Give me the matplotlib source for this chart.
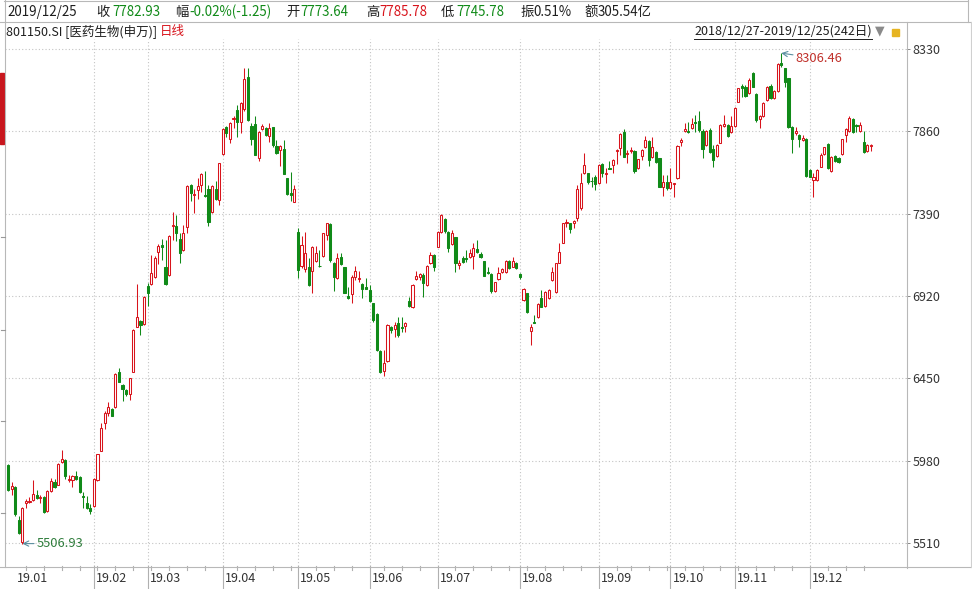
import matplotlib
matplotlib.use('Agg')
import matplotlib.pyplot as plt
import matplotlib.transforms as mtransforms
from matplotlib.lines import Line2D
from matplotlib.patches import Rectangle
import numpy as np
import pandas as pd

plt.rcParams['font.family'] = ['Noto Sans CJK SC', 'DejaVu Sans']

# ---------------- data (801150.SI 医药生物(申万), daily, 2018/12/27-2019/12/25) ----------------
opens = [
    5954, 5817,                                                        # 2018-12
    5830, 5644, 5515, 5738, 5745, 5758, 5785, 5765, 5771, 5693, 5807,  # 2019-01
    5860, 5844, 5974, 5982, 5868, 5870, 5893, 5889, 5781, 5738, 5712,
    5722, 5870, 6037, 6194, 6250, 6273, 6287, 6486, 6411, 6385, 6362,  # 02
    6486, 6746, 6779, 6760,
    6976, 6986, 7031, 7169, 7214, 7088, 7041, 7320, 7320, 7243, 7184,  # 03
    7316, 7554, 7497, 7523, 7552, 7497, 7529, 7399, 7533, 7470,
    7730, 7887, 7818, 7930, 7980, 7911, 7989, 8172, 7891, 7901, 7710,  # 04
    7873, 7881, 7832, 7885, 7775, 7751, 7759, 7592, 7507, 7458,
    7287, 7090, 7076, 7088, 7063, 7122, 7093, 7148, 7268, 7331, 7110,  # 05
    7021, 7145, 7084, 6922, 6931, 7030, 7020, 6987, 6969,
    6954, 6878, 6817, 6608, 6494, 6551, 6745, 6730, 6764, 6741, 6749,  # 06
    6893, 6855, 7015, 7027, 7040, 6983, 7106, 7154,
    7202, 7287, 7360, 7287, 7217, 7255, 7097, 7139, 7139, 7144, 7150,  # 07
    7188, 7160, 7120, 7057, 7045, 6950, 7015, 7059, 7059, 7120, 7087,
    7106,
    7044, 6897, 6935, 6722, 6773, 6798, 6907, 6865, 6907, 7011, 6941,  # 08
    7110, 7224, 7335, 7335, 7335, 7363, 7420, 7620, 7620, 7577, 7597,
    7563, 7673, 7618, 7652, 7668, 7749, 7763, 7858, 7728, 7749, 7749,  # 09
    7649, 7721, 7768, 7805, 7711, 7744, 7706, 7544, 7572,
    7534, 7559, 7591, 7801, 7864, 7862, 7877, 7913, 7919, 7864, 7782,  # 10
    7867, 7757, 7719, 7795, 7890, 7896, 7858,
    7890, 8029, 8119, 8115, 8077, 8194, 8073, 7928, 7947, 8038, 8118,  # 11
    8048, 8092, 8252, 8219, 8162, 7882, 7848, 7839, 7810, 7814,
    7639, 7582, 7582, 7658, 7730, 7787, 7635, 7719, 7705, 7730, 7839,  # 12
    7863, 7928, 7896, 7863, 7801, 7749, 7773.64,
]
highs = [
    5962, 5856,
    5836, 5663, 5713, 5762, 5771, 5870, 5811, 5785, 5777, 5811, 5880,
    5874, 5968, 6041, 5988, 5899, 5899, 5919, 5893, 5801, 5781, 5732,
    5880, 6021, 6198, 6263, 6313, 6283, 6480, 6509, 6415, 6391, 6454,
    6730, 6986, 6785, 6923,
    6992, 7155, 7149, 7218, 7243, 7238, 7267, 7399, 7381, 7277, 7326,
    7552, 7558, 7533, 7592, 7621, 7631, 7552, 7552, 7578, 7682,
    7877, 7891, 7911, 7950, 8009, 8025, 8222, 8222, 7907, 7946, 7861,
    7903, 7883, 7907, 7887, 7808, 7783, 7808, 7596, 7627, 7556,
    7306, 7261, 7287, 7139, 7207, 7207, 7183, 7282, 7339, 7335, 7116,
    7167, 7164, 7087, 6969, 7040, 7093, 7063, 6992, 7021,
    6983, 6882, 6821, 6612, 6612, 6760, 6749, 6773, 6802, 6798, 6773,
    6916, 6987, 7063, 7053, 7049, 7095, 7173, 7158,
    7291, 7388, 7363, 7291, 7297, 7259, 7125, 7148, 7182, 7186, 7221,
    7240, 7173, 7122, 7087, 7049, 7002, 7087, 7078, 7125, 7125, 7144,
    7116,
    7049, 6964, 6939, 6758, 6811, 6878, 6954, 6950, 6958, 7084, 7110,
    7221, 7339, 7358, 7339, 7354, 7554, 7620, 7735, 7624, 7597, 7611,
    7673, 7677, 7649, 7692, 7700, 7757, 7848, 7871, 7753, 7772, 7753,
    7704, 7757, 7833, 7810, 7826, 7749, 7709, 7610, 7610,
    7649, 7567, 7780, 7824, 7905, 7915, 7934, 7953, 7976, 7871, 7866,
    7877, 7782, 7786, 7900, 7953, 7900, 7947,
    8001, 8109, 8130, 8124, 8162, 8200, 8077, 7953, 8029, 8118, 8130,
    8096, 8248, 8306.46, 8223, 8166, 7890, 7882, 7844, 7839, 7820,
    7643, 7620, 7643, 7734, 7772, 7791, 7719, 7724, 7711, 7818, 7877,
    7947, 7934, 7901, 7915, 7863, 7790, 7785.78,
]
lows = [
    5805, 5785,
    5667, 5561, 5506.93, 5712, 5738, 5752, 5760, 5738, 5683, 5689, 5801,
    5825, 5840, 5968, 5876, 5856, 5830, 5870, 5797, 5712, 5702, 5673,
    5718, 5866, 6033, 6159, 6234, 6234, 6283, 6427, 6322, 6352, 6328,
    6484, 6742, 6696, 6755,
    6864, 6982, 7025, 7104, 7123, 6982, 7037, 7238, 7234, 7110, 7178,
    7277, 7464, 7395, 7474, 7513, 7483, 7320, 7395, 7470, 7440,
    7726, 7828, 7793, 7877, 7828, 7852, 7976, 7917, 7783, 7724, 7690,
    7867, 7832, 7798, 7769, 7730, 7665, 7615, 7497, 7464, 7454,
    7021, 7080, 7057, 6978, 6935, 7116, 7087, 7145, 7240, 7116, 6950,
    7017, 7097, 6935, 6901, 6882, 7011, 7002, 6910, 6958,
    6888, 6773, 6608, 6479, 6465, 6545, 6711, 6684, 6688, 6716, 6716,
    6859, 6850, 7011, 7011, 6916, 6977, 7103, 7063,
    7198, 7278, 7278, 7173, 7211, 7059, 7074, 7106, 7116, 7139, 7074,
    7163, 7139, 7034, 7045, 6939, 6945, 7011, 7049, 7053, 7074, 7083,
    7074,
    7015, 6893, 6825, 6640, 6764, 6794, 6855, 6859, 6903, 7007, 6939,
    7106, 7221, 7316, 7281, 7306, 7350, 7410, 7616, 7559, 7540, 7525,
    7559, 7601, 7563, 7643, 7624, 7673, 7725, 7711, 7677, 7738, 7624,
    7645, 7696, 7763, 7662, 7706, 7681, 7540, 7491, 7525,
    7530, 7487, 7588, 7776, 7858, 7852, 7873, 7858, 7858, 7706, 7776,
    7738, 7654, 7711, 7791, 7886, 7826, 7852,
    7886, 8025, 8058, 8058, 8073, 8111, 7915, 7877, 7943, 8035, 8042,
    8042, 8086, 8225, 8115, 7877, 7734, 7839, 7772, 7806, 7597,
    7597, 7487, 7578, 7654, 7724, 7643, 7629, 7686, 7677, 7724, 7801,
    7858, 7852, 7858, 7858, 7738, 7744, 7745.78,
]
closes = [
    5811, 5836,
    5673, 5565, 5710, 5752, 5752, 5791, 5765, 5771, 5687, 5807, 5866,
    5830, 5962, 5992, 5895, 5874, 5895, 5876, 5801, 5771, 5708, 5693,
    5876, 6017, 6165, 6254, 6287, 6238, 6474, 6431, 6387, 6362, 6450,
    6726, 6799, 6754, 6917,
    6938, 7051, 7139, 7208, 7202, 6986, 7263, 7326, 7277, 7163, 7277,
    7548, 7509, 7503, 7548, 7617, 7493, 7340, 7548, 7474, 7678,
    7871, 7852, 7907, 7936, 7911, 8021, 8157, 7922, 7818, 7726, 7857,
    7891, 7838, 7877, 7783, 7735, 7779, 7619, 7503, 7497, 7531,
    7070, 7214, 7165, 6982, 7202, 7167, 7089, 7278, 7335, 7126, 7027,
    7139, 7103, 6939, 6907, 7030, 7063, 7025, 6958, 6962,
    6893, 6783, 6612, 6488, 6536, 6754, 6726, 6754, 6697, 6735, 6768,
    6863, 6983, 7034, 7045, 6996, 7091, 7154, 7087,
    7287, 7382, 7293, 7192, 7278, 7106, 7110, 7116, 7133, 7163, 7196,
    7173, 7144, 7036, 7049, 6950, 6998, 7049, 7074, 7122, 7078, 7120,
    7082,
    7030, 6958, 6830, 6745, 6768, 6874, 6859, 6945, 6954, 7055, 7106,
    7173, 7335, 7340, 7300, 7350, 7529, 7567, 7668, 7573, 7575, 7560,
    7668, 7624, 7624, 7647, 7696, 7753, 7845, 7715, 7738, 7753, 7635,
    7700, 7753, 7810, 7696, 7768, 7687, 7544, 7569, 7534,
    7572, 7563, 7776, 7810, 7871, 7856, 7902, 7905, 7867, 7757, 7862,
    7744, 7696, 7782, 7896, 7902, 7833, 7890,
    7995, 8105, 8105, 8062, 8153, 8115, 7924, 7947, 8023, 8115, 8048,
    8092, 8242, 8238, 8143, 7886, 7814, 7863, 7814, 7820, 7605,
    7601, 7601, 7639, 7724, 7768, 7648, 7715, 7692, 7686, 7814, 7871,
    7934, 7858, 7890, 7896, 7743, 7784.18, 7782.93,
]

y_ticks = [5510, 5980, 6450, 6920, 7390, 7860, 8330]
holidays = ['2018-12-31', '2019-01-01', '2019-02-04', '2019-02-05', '2019-02-06',
            '2019-02-07', '2019-02-08', '2019-04-05', '2019-05-01', '2019-05-02',
            '2019-05-03', '2019-06-07', '2019-09-13', '2019-10-01', '2019-10-02',
            '2019-10-03', '2019-10-04', '2019-10-07']
low_idx, low_val = 4, 5506.93
high_idx, high_val = 216, 8306.46

# ---------------- setup ----------------
O = np.array(opens, float); Hh = np.array(highs, float)
L = np.array(lows, float); C = np.array(closes, float)
n = len(C)
dates = pd.bdate_range('2018-12-27', '2019-12-25')
dates = dates[~dates.isin(pd.to_datetime(holidays))][:n]

W, H = 972, 589
fig = plt.figure(figsize=(9.72, 5.89), dpi=100)
fig.patch.set_facecolor('white')


def fx(x):
    return x / W


def fy(y):
    return 1 - y / H


RED = '#d8141c'
GREEN = '#108a18'
GRID = '#c4c4c4'
BORDER = '#b8b8b8'
TXT = '#1e1e1e'

ax = fig.add_axes([fx(5), fy(566), fx(906) - fx(5), fy(39) - fy(566)])
ax.set_xlim(-0.838, 250.84)
ax.set_ylim(5379.0, 8387.1)
for s in ax.spines.values():
    s.set_visible(False)
ax.set_xticks([])
ax.yaxis.tick_right()
ax.set_yticks(y_ticks)
ax.set_yticklabels([str(v) for v in y_ticks])
ax.tick_params(axis='y', length=3.2, width=0.7, color='#888888', pad=1.5,
               labelsize=9, labelcolor='#333333')

# horizontal dotted grid
for v in y_ticks:
    ax.axhline(v, color=GRID, lw=0.8, ls=(0, (1, 2)), zorder=0)

# month starts
months = dates.to_period('M')
mstart = [i for i in range(n) if i == 0 or months[i] != months[i - 1]]
mstart = [i for i in mstart if dates[i].year == 2019]
for i in mstart[1:]:
    ax.axvline(i, color=GRID, lw=0.8, ls=(0, (1, 2)), zorder=0)

# candles
x = np.arange(n)
up = C >= O
ax.vlines(x, L, Hh, colors=np.where(up, RED, GREEN), lw=0.75, zorder=2)
bot = np.minimum(O, C)
hgt = np.maximum(np.abs(C - O), 0.5)
ax.bar(x[up], hgt[up], bottom=bot[up], width=0.6, facecolor='white',
       edgecolor=RED, lw=0.75, zorder=3)
ax.bar(x[~up], hgt[~up], bottom=bot[~up], width=0.6, facecolor=GREEN,
       edgecolor=GREEN, lw=0.75, zorder=3)

# annotations for extremes
ax.annotate(f'{low_val:.2f}', xy=(low_idx, low_val), xytext=(14.5, 0),
            textcoords='offset pixels', ha='left', va='center', fontsize=9.3,
            color='#2f7d3c',
            arrowprops=dict(arrowstyle='->', color='#5b8fa0', lw=0.8,
                            shrinkA=0, shrinkB=0))
ax.annotate(f'{high_val:.2f}', xy=(high_idx, high_val), xytext=(14.5, -5.5),
            textcoords='offset pixels', ha='left', va='center', fontsize=9.3,
            color='#c0302a',
            arrowprops=dict(arrowstyle='->', color='#5b8fa0', lw=0.8,
                            shrinkA=0, shrinkB=0))

# x labels and ticks below axis
bt = mtransforms.blended_transform_factory(ax.transData, fig.transFigure)
for i in mstart:
    lab = dates[i].strftime('%y.%m')
    ax.text(i + 0.6, fy(578), lab, transform=bt, ha='left', va='center',
            fontsize=9, color='#333333', clip_on=False)
    if i != mstart[0]:
        fig.add_artist(Line2D([i, i], [fy(566), fy(588)], transform=bt,
                              color='#b0b0b0', lw=0.8))
wk = dates.isocalendar().week.values
wstart = [i for i in range(1, n) if wk[i] != wk[i - 1] and i not in mstart]
for i in wstart:
    fig.add_artist(Line2D([i, i], [fy(566), fy(570)], transform=bt,
                          color='#b0b0b0', lw=0.8))

# frame / borders


def hline(y, x0, x1, c=BORDER, lw=0.8):
    fig.add_artist(Line2D([fx(x0), fx(x1)], [fy(y), fy(y)], color=c, lw=lw))


def vline(xp, y0, y1, c=BORDER, lw=0.8):
    fig.add_artist(Line2D([fx(xp), fx(xp)], [fy(y0), fy(y1)], color=c, lw=lw))


hline(1, 4, 968)
hline(22, 0, 972)
hline(566.5, 0, 972)
vline(4.5, 0, 566.5)
vline(968, 0, 22)
vline(906.5, 22, 568)
vline(971, 22, 566.5, c='#d0d0d0')
fig.add_artist(Rectangle((0, fy(144)), fx(4), fy(73) - fy(144),
                         transform=fig.transFigure, color='#c8161d'))
for yy in [237, 330, 421, 513]:
    hline(yy, 0.5, 4.5, c='#999999')

# header row 1
hdr = [(7, '2019/12/25', TXT), (96, '收', TXT), (112, '7782.93', GREEN),
       (175, '幅', TXT), (189, '-0.02%(-1.25)', GREEN), (286, '开', TXT),
       (300, '7773.64', GREEN), (366, '高', TXT), (379, '7785.78', RED),
       (441, '低', TXT), (456, '7745.78', GREEN), (520, '振', TXT),
       (533, '0.51%', TXT), (584, '额', TXT), (598, '305.54亿', TXT)]
for xp, s, c in hdr:
    fig.text(fx(xp), fy(12), s, ha='left', va='center', fontsize=9.6, color=c)

# header row 2
fig.text(fx(6), fy(31), '801150.SI [医药生物(申万)]', ha='left', va='center',
         fontsize=9, color=TXT)
fig.text(fx(160), fy(31), '日线', ha='left', va='center', fontsize=9, color=RED)
rng = fig.text(fx(872), fy(31), '2018/12/27-2019/12/25(242日)', ha='right',
               va='center', fontsize=9, color=TXT)
fig.canvas.draw()
bb = rng.get_window_extent()
hline(38.5, bb.x0, 872, c=TXT, lw=0.7)
fig.text(fx(880), fy(31), '▼', ha='center', va='center', fontsize=9,
         color='#8a8a8a', family='DejaVu Sans')
fig.add_artist(Rectangle((fx(892), fy(36)), fx(7), fy(29) - fy(36),
                         transform=fig.transFigure, color='#e6b422'))

fig.savefig('out.png', dpi=100, facecolor='white')
